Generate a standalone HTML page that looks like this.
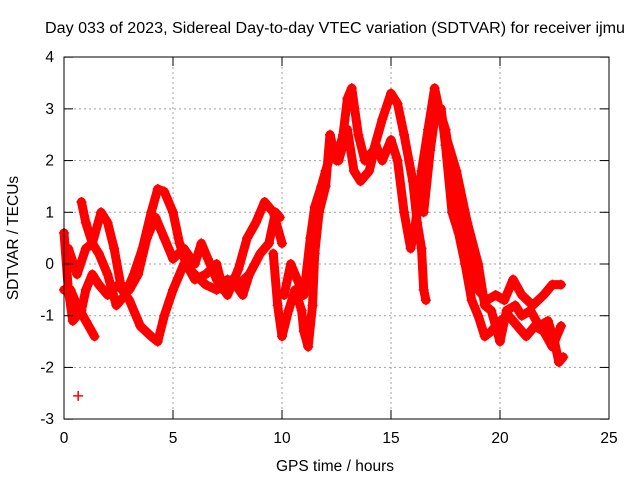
<!DOCTYPE html>
<html><head><meta charset="utf-8"><style>
body{margin:0;background:#fff}
svg{display:block;font-family:"Liberation Sans",sans-serif}
</style></head><body>
<svg width="640" height="480" id="c">
<rect width="640" height="480" fill="#fff"/>
<text x="335" y="33" font-size="15.5" text-anchor="middle" textLength="580" lengthAdjust="spacingAndGlyphs">Day 033 of 2023, Sidereal Day-to-day VTEC variation (SDTVAR) for receiver ijmu</text>
<text x="335" y="471" font-size="15.5" text-anchor="middle">GPS time / hours</text>
<text x="18" y="238" font-size="15.5" text-anchor="middle" transform="rotate(-90 18 238)">SDTVAR / TECUs</text>
<g id="grid"></g><g id="marks"></g>
<rect x="64" y="57" width="545" height="362" fill="none" stroke="#000" stroke-width="1"/>
<g id="ticks"></g>
</svg>
<script>
const xTicks=[0,5,10,15,20,25];
const yTicks=[-3,-2,-1,0,1,2,3,4];
const s1=[[0,0.6],[0.2,-0.5],[0.4,-1.1],[0.8,-0.9],[1.0,-0.5],[1.3,-0.2],[1.6,-0.4],[2.0,-0.6],[2.5,-0.4],[3.0,-0.7],[3.5,-1.2],[4.0,-1.4],[4.3,-1.5],[4.6,-1.0],[5.0,-0.5],[5.5,0],[6.0,-0.2],[6.5,-0.4],[7,-0.5],[7.5,-0.3],[8,-0.4],[8.5,-0.2]];
const s2=[[0,-0.5],[0.3,-0.5],[0.6,-0.8],[1.0,-1.1],[1.4,-1.4]];
const s3=[[0.8,1.2],[1.0,0.8],[1.3,0.4],[1.6,0.2],[2.0,-0.2],[2.4,-0.8],[2.8,-0.6],[3.2,-0.2],[3.6,0.3],[4.0,1.0],[4.3,1.45],[4.6,1.4],[5.0,1.0],[5.3,0.4],[5.6,0],[6.0,-0.3],[6.5,-0.2],[7,0],[7.3,-0.5],[7.7,-0.3],[8.2,-0.6],[8.5,-0.2],[9,0.2],[9.4,0.4],[9.7,1.0],[9.9,0.9]];
const s4=[[0.2,0.3],[0.6,-0.2],[1.0,0.3],[1.3,0.4],[1.7,1.0],[2.0,0.8],[2.3,0.3],[2.6,-0.4],[3.0,-0.5],[3.4,-0.2],[3.8,0.5],[4.2,0.9],[4.6,0.5],[5.0,0.1],[5.5,0.3],[6.0,0],[6.3,0.4],[6.6,0.1],[7,-0.3],[7.5,-0.6],[8.0,-0.1],[8.4,0.5],[8.8,0.8],[9.2,1.2],[9.6,1.0],[10,0.4]];
const s5=[[9.6,0.2],[9.8,-0.8],[10.0,-1.4],[10.3,-0.9],[10.6,-0.5],[10.9,-0.9],[11.0,-1.3],[11.2,-1.6],[11.4,-0.8],[11.5,0.2],[11.7,1.0],[12,1.5],[12.2,2.5],[12.5,2.0],[12.8,2.5],[13,3.2],[13.2,3.4],[13.5,2.5],[13.8,2.0],[14.2,2.2],[14.6,2.8],[15,3.3],[15.3,3.1],[15.6,2.5],[16,1.6],[16.2,0.8],[16.4,0.3],[16.5,-0.5],[16.6,-0.7]];
const s6=[[10.1,-0.6],[10.4,0],[10.7,-0.3],[11,-0.6],[11.3,0.5],[11.5,1.1],[11.8,1.5],[12,1.8],[12.3,2.2],[12.6,2.0],[13,2.6],[13.3,1.8],[13.6,1.6],[14,1.8],[14.3,2.3],[14.6,2.0],[15,2.4],[15.3,2.0],[15.6,1.0],[15.9,0.3],[16.1,0.7],[16.4,1.8],[16.7,2.6],[17,3.4],[17.2,3.0],[17.5,2.6],[17.8,1.8],[18.1,1.0],[18.4,0.5],[18.7,0],[19,-0.5],[19.4,-0.7],[19.8,-0.6],[20.2,-0.7],[20.6,-0.3],[21,-0.6],[21.5,-0.8],[22,-0.6],[22.4,-0.4],[22.8,-0.4]];
const s7=[[16.5,1.0],[16.8,2.2],[17,2.8],[17.3,3.0],[17.5,2.3],[17.8,1.0],[18.1,0.6],[18.4,0],[18.7,-0.7],[19,-1.0],[19.3,-1.4],[19.6,-1.3],[20,-1.1],[20.4,-1.0],[20.8,-1.2],[21.2,-1.4],[21.6,-1.2],[22,-1.3],[22.4,-1.6],[22.8,-1.2]];
const s8=[[17.5,2.5],[18,1.8],[18.5,0.8],[19,0.0],[19.3,-0.8],[19.6,-0.9],[20.0,-1.5],[20.3,-0.9],[20.7,-0.8],[21,-1.0],[21.4,-0.9],[21.8,-1.2],[22.2,-1.1],[22.5,-1.5],[22.7,-1.9],[22.9,-1.8]];
const s9=[[0.65,-2.55]];
const series=[s1,s2,s3,s4,s5,s6,s7,s8,s9];
const NS="http://www.w3.org/2000/svg";
const X=v=>64+v*545/25, Y=v=>264-v*362/7;
const grid=document.getElementById('grid'),ticks=document.getElementById('ticks'),marks=document.getElementById('marks');
function mk(t,a,p){const e=document.createElementNS(NS,t);for(const k in a)e.setAttribute(k,a[k]);p.appendChild(e);return e;}
xTicks.forEach(t=>{const x=X(t);
 if(t>0&&t<25){const g=mk('line',{x1:x,x2:x,y1:57,y2:419,stroke:'#a0a0a0','stroke-dasharray':'2,3'},grid);}
 const l=mk('line',{x1:x,x2:x,y1:419,y2:410,stroke:'#000'},ticks);
 const l2=mk('line',{x1:x,x2:x,y1:57,y2:66,stroke:'#000'},ticks);
 const tx=mk('text',{x:x,y:443,'font-size':15.5,'text-anchor':'middle'},ticks);tx.textContent=t;});
yTicks.forEach(t=>{const y=Y(t);
 if(t>-3&&t<4){const g=mk('line',{x1:64,x2:609,y1:y,y2:y,stroke:'#a0a0a0','stroke-dasharray':'2,3'},grid);}
 const l=mk('line',{x1:64,x2:73,y1:y,y2:y,stroke:'#000'},ticks);
 const l2=mk('line',{x1:600,x2:609,y1:y,y2:y,stroke:'#000'},ticks);
 const tx=mk('text',{x:54,y:y+5,'font-size':15.5,'text-anchor':'end'},ticks);tx.textContent=t;});
series.forEach(s=>{
 const pts=s.map(p=>X(p[0])+','+Y(p[1])).join(' ');
 if(s.length>1){const pl=mk('polyline',{points:pts,fill:'none',stroke:'#ff0000','stroke-width':9,'stroke-linejoin':'round','stroke-linecap':'round'},marks);}
 let d='';s.forEach(p=>{const x=X(p[0]),y=Y(p[1]);d+=`M${x-5},${y}h10M${x},${y-5}v10`;});
 const pm=mk('path',{d:d,stroke:'#ff0000','stroke-width':1.5,fill:'none'},marks);
});
</script>
</body></html>
